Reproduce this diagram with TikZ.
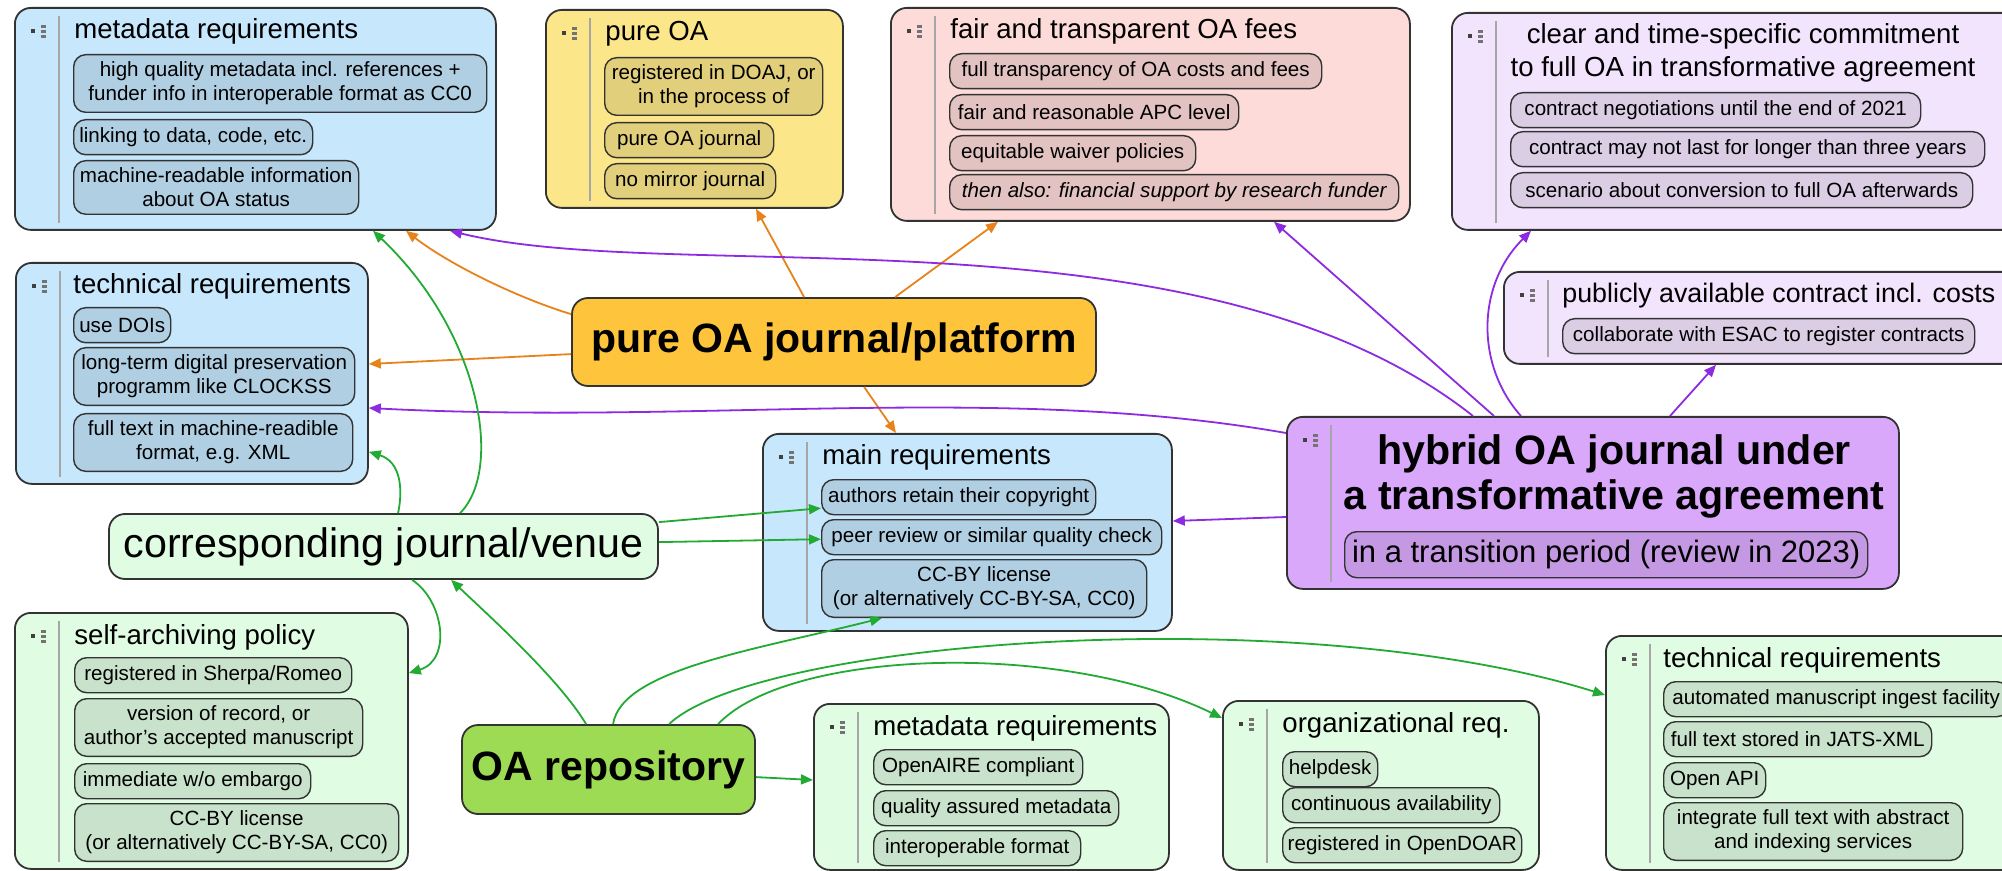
\documentclass[tikz,border=0pt]{standalone}
\usepackage{fontspec}
\setmainfont{Liberation Sans}
\usetikzlibrary{calc, arrows.meta}

\definecolor{blueF}{HTML}{C7E7FC}
\definecolor{blueI}{HTML}{B0CFE3}
\definecolor{yelF}{HTML}{FCE68A}
\definecolor{yelI}{HTML}{E2CF7C}
\definecolor{pinkF}{HTML}{FDDBD9}
\definecolor{pinkI}{HTML}{E2C3C2}
\definecolor{lavF}{HTML}{F2E4FD}
\definecolor{lavI}{HTML}{DACDE4}
\definecolor{hybF}{HTML}{D9A8FB}
\definecolor{hybI}{HTML}{C498E2}
\definecolor{grnF}{HTML}{E0FCE3}
\definecolor{grnI}{HTML}{C9E2CC}
\definecolor{pjF}{HTML}{FDC43C}
\definecolor{repF}{HTML}{9EDB55}
\definecolor{arrO}{HTML}{E8821A}
\definecolor{arrP}{HTML}{8C2BE0}
\definecolor{arrG}{HTML}{22AA33}

\tikzset{
  wd/.style={minimum width=#1*0.5pt},
  ht/.style={minimum height=#1*0.5pt},
  box/.style={draw=black!80, line width=0.9pt, rounded corners=8pt, anchor=north west, inner sep=0pt},
  itm/.style={draw=black!80, line width=0.7pt, rounded corners=6pt, anchor=north west, align=center,
    inner xsep=2pt, inner ysep=3.6pt, minimum height=17.5pt, font=\fontsize{10.3}{12}\selectfont},
  ttl/.style={anchor=base west, inner sep=0pt, font=\fontsize{13.8}{16.5}\selectfont},
  hub/.style={draw=black!80, line width=0.9pt, rounded corners=8pt, font=\fontsize{20.5}{22.5}\selectfont\bfseries},
  sep/.style={draw=black!35, line width=0.6pt},
  link/.style={line width=0.9pt, -{Triangle[length=6pt,width=5pt]}},
  oarr/.style={link, draw=arrO},
  parr/.style={link, draw=arrP},
  garr/.style={link, draw=arrG},
}

\begin{document}
\begin{tikzpicture}[x=0.5pt, y=-0.5pt]
\useasboundingbox (0,0) rectangle (2002,871);
\clip (0,0) rectangle (2002,871);
\fill[white] (0,0) rectangle (2002,871);

% containers
\node[box, fill=blueF, wd=481, ht=222] (mdA) at (14,7) {};
\node[box, fill=yelF, wd=297, ht=198] (poa) at (545,9) {};
\node[box, fill=pinkF, wd=519, ht=213] (fee) at (890,7) {};
\node[box, fill=lavF, wd=600, ht=217] (com) at (1451,12) {};
\node[box, fill=lavF, wd=560, ht=92] (pub) at (1503,271) {};
\node[box, fill=blueF, wd=352, ht=221] (tcA) at (15,262) {};
\node[box, fill=blueF, wd=409, ht=197] (mrq) at (762,433) {};
\node[box, fill=hybF, wd=612, ht=172] (hyb) at (1286,416) {};
\node[box, fill=grnF, wd=393, ht=256] (sap) at (14,612) {};
\node[box, fill=grnF, wd=355, ht=166] (mdR) at (813,703) {};
\node[box, fill=grnF, wd=316, ht=169] (org) at (1222,700) {};
\node[box, fill=grnF, wd=440, ht=234] (tcR) at (1605,635) {};

% handle icon and divider of every container
\foreach \n in {mdA,poa,fee,com,pub,tcA,mrq,hyb,sap,mdR,org,tcR} {
  \draw[sep] ($(\n.north west)+(45,9)$) -- ($(\n.south west)+(45,-8)$);
  \fill[black!75] ($(\n.north west)+(17,22)$) rectangle ++(4,4);
  \foreach \k in {18,23,28}
    \fill[black!55] ($(\n.north west)+(27,\k)$) rectangle ++(5,3);
}

% titles
\node[ttl] (mdAt) at ($(mdA.north west)+(60,32)$) {metadata requirements};
\node[ttl] (poat) at ($(poa.north west)+(60,32)$) {pure OA};
\node[ttl] (feet) at ($(fee.north west)+(60,32)$) {fair and transparent OA fees};
\node[ttl, anchor=center, align=center] (comt) at (1743,53) {clear and time-specific commitment\\to full OA in transformative agreement};
\node[ttl, font=\fontsize{13.4}{16}\selectfont] (pubt) at ($(pub.north west)+(59,32)$) {publicly available contract incl. costs};
\node[ttl] (tcAt) at ($(tcA.north west)+(58,32)$) {technical requirements};
\node[ttl] (mrqt) at ($(mrq.north west)+(60,32)$) {main requirements};
\node[font=\fontsize{20.6}{22.5}\selectfont\bfseries, align=center, inner sep=0pt] (hybt) at (1614,476) {hybrid OA journal under\\a transformative agreement};
\node[ttl] (sapt) at ($(sap.north west)+(60,32)$) {self-archiving policy};
\node[ttl] (mdRt) at ($(mdR.north west)+(60,32)$) {metadata requirements};
\node[ttl] (orgt) at ($(org.north west)+(60,32)$) {organizational req.};
\node[ttl] (tcRt) at ($(tcR.north west)+(58,32)$) {technical requirements};

% items
\node[itm, fill=blueI, wd=413] (mdA1) at (73,54) {high quality metadata incl. references +\\funder info in interoperable format as CC0};
\node[itm, fill=blueI, wd=239] (mdA2) at (73,119) {linking to data, code, etc.};
\node[itm, fill=blueI, wd=285] (mdA3) at (73,160) {machine-readable information\\about OA status};

\node[itm, fill=yelI, wd=218] (poa1) at (604,57) {registered in DOAJ, or\\in the process of};
\node[itm, fill=yelI, wd=169] (poa2) at (604,122) {pure OA journal};
\node[itm, fill=yelI, wd=171] (poa3) at (604,163) {no mirror journal};

\node[itm, fill=pinkI, wd=372] (fee1) at (949,53) {full transparency of OA costs and fees};
\node[itm, fill=pinkI, wd=289] (fee2) at (949,94) {fair and reasonable APC level};
\node[itm, fill=pinkI, wd=246] (fee3) at (949,135) {equitable waiver policies};
\node[itm, fill=pinkI, wd=449] (fee4) at (949,174) {\itshape then also: financial support by research funder};

\node[itm, fill=lavI, wd=410] (com1) at (1510,92) {contract negotiations until the end of 2021};
\node[itm, fill=lavI, wd=474] (com2) at (1510,131) {contract may not last for longer than three years};
\node[itm, fill=lavI, wd=462] (com3) at (1510,172) {scenario about conversion to full OA afterwards};

\node[itm, fill=lavI, wd=412] (pub1) at (1562,318) {collaborate with ESAC to register contracts};

\node[itm, fill=blueI, wd=97] (tcA1) at (73,307) {use DOIs};
\node[itm, fill=blueI, wd=281] (tcA2) at (73,347) {long-term digital preservation\\programm like CLOCKSS};
\node[itm, fill=blueI, wd=279] (tcA3) at (73,413) {full text in machine-readible\\format, e.g. XML};

\node[itm, fill=blueI, wd=274] (mrq1) at (821,479) {authors retain their copyright};
\node[itm, fill=blueI, wd=340] (mrq2) at (821,519) {peer review or similar quality check};
\node[itm, fill=blueI, wd=325] (mrq3) at (821,559) {CC-BY license\\(or alternatively CC-BY-SA, CC0)};

\node[itm, fill=hybI, wd=523, ht=46, font=\fontsize{15.5}{18}\selectfont] (hyb1) at (1344,531) {in a transition period (review in 2023)};

\node[itm, fill=grnI, wd=277] (sap1) at (74,657) {registered in Sherpa/Romeo};
\node[itm, fill=grnI, wd=288] (sap2) at (74,698) {version of record, or\\author's accepted manuscript};
\node[itm, fill=grnI, wd=236] (sap3) at (74,763) {immediate w/o embargo};
\node[itm, fill=grnI, wd=324] (sap4) at (74,803) {CC-BY license\\(or alternatively CC-BY-SA, CC0)};

\node[itm, fill=grnI, wd=209] (mdR1) at (873,749) {OpenAIRE compliant};
\node[itm, fill=grnI, wd=245] (mdR2) at (873,790) {quality assured metadata};
\node[itm, fill=grnI, wd=207] (mdR3) at (873,830) {interoperable format};

\node[itm, fill=grnI, wd=95] (org1) at (1282,751) {helpdesk};
\node[itm, fill=grnI, wd=217] (org2) at (1282,787) {continuous availability};
\node[itm, fill=grnI, wd=239] (org3) at (1282,827) {registered in OpenDOAR};

\node[itm, fill=grnI, wd=345] (tcR1) at (1663,681) {automated manuscript ingest facility};
\node[itm, fill=grnI, wd=268] (tcR2) at (1663,721) {full text stored in JATS-XML};
\node[itm, fill=grnI, wd=102] (tcR3) at (1663,762) {Open API};
\node[itm, fill=grnI, wd=299] (tcR4) at (1663,802) {integrate full text with abstract\\and indexing services};

% hubs
\node[hub, fill=pjF, wd=524, ht=88] (pj) at (834,342) {pure OA journal/platform};
\node[hub, fill=grnF, wd=549, ht=65, font=\fontsize{20.6}{24}\selectfont] (cj) at (383.5,546.5) {corresponding journal/venue};
\node[hub, fill=repF, wd=293, ht=89] (rep) at (608.5,769.5) {OA repository};

% pure OA journal/platform
\draw[oarr] ($(pj.north west)+(0,17)$) .. controls +(-50,-15) and +(45,35) .. ($(mdA.south west)+(392,0)$);
\draw[oarr] ($(pj.north west)+(0,57)$) -- ($(tcA.north east)+(0,102)$);
\draw[oarr] ($(pj.north west)+(233,0)$) -- ($(poa.south west)+(211,0)$);
\draw[oarr] ($(pj.north west)+(324,0)$) -- ($(fee.south west)+(108,0)$);
\draw[oarr] ($(pj.south west)+(293,0)$) -- ($(mrq.north west)+(134,0)$);

% hybrid OA journal
\draw[parr] ($(hyb.north west)+(187,0)$) .. controls +(-273,-216) and +(230,56) .. ($(mdA.south west)+(436,0)$);
\draw[parr] ($(hyb.north west)+(0,17)$) .. controls +(-286,-50) and +(332,17) .. ($(tcA.north east)+(0,146)$);
\draw[parr] ($(hyb.north west)+(208,0)$) -- ($(fee.south west)+(384,0)$);
\draw[parr] ($(hyb.north west)+(235,0)$) .. controls +(-45,-50) and +(-55,55) .. ($(com.south west)+(80,0)$);
\draw[parr] ($(hyb.north west)+(384,0)$) -- ($(pub.south west)+(213,0)$);
\draw[parr] ($(hyb.north west)+(0,101)$) -- ($(mrq.north east)+(0,88)$);

% corresponding journal/venue
\draw[garr] ($(cj.north west)+(352,0)$) .. controls +(44,-44) and +(107,101) .. ($(mdA.south west)+(359,0)$);
\draw[garr] ($(cj.north west)+(290,0)$) .. controls +(5,-24) and +(32,10) .. ($(tcA.south east)+(0,-33)$);
\draw[garr] ($(cj.north east)+(0,9)$) -- ($(mrq1.west)+(0,11)$);
\draw[garr] ($(cj.north east)+(0,29)$) -- ($(mrq2.west)+(0,2)$);
\draw[garr] ($(cj.south west)+(304,0)$) .. controls +(32,21) and +(43,-13) .. ($(sap.north east)+(0,61)$);

% OA repository
\draw[garr] ($(rep.north west)+(125,0)$) .. controls +(-27,-45) and +(38,36) .. ($(cj.south west)+(343,0)$);
\draw[garr] ($(rep.north west)+(152,0)$) .. controls +(8,-55) and +(-122,31) .. ($(mrq3.south west)+(61,0)$);
\draw[garr] ($(rep.north west)+(257,0)$) .. controls +(71,-75) and +(-160,-78) .. ($(org.north west)+(0,18)$);
\draw[garr] ($(rep.north west)+(208,0)$) .. controls +(90,-85) and +(-303,-95) .. ($(tcR.north west)+(0,60)$);
\draw[garr] ($(rep.north east)+(0,53)$) -- ($(mdR.north west)+(0,77)$);
\end{tikzpicture}
\end{document}
